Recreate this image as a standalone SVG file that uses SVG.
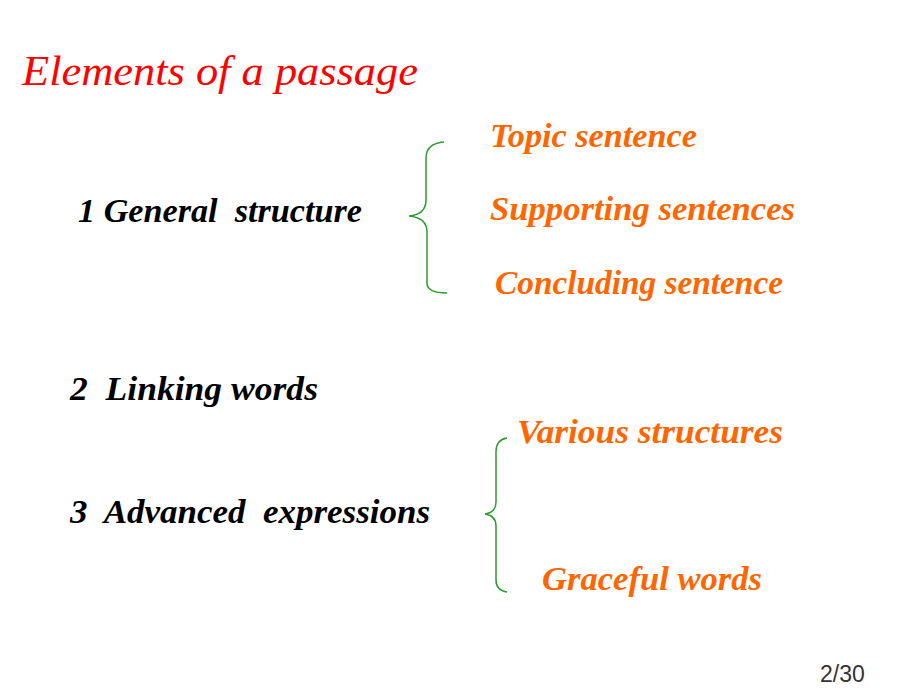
<svg xmlns="http://www.w3.org/2000/svg" width="920" height="690" viewBox="0 0 920 690">
<style>
.t{font-family:"Liberation Serif","DejaVu Serif",serif;font-style:italic;}
.title{fill:#FF0000;font-size:42px;}
.blk{fill:#000000;font-size:33px;font-weight:bold;}
.org{fill:#FF6600;font-size:33px;font-weight:bold;}
.br{fill:none;stroke:#2E9B2E;stroke-width:1.5;}
.pg{font-family:"Liberation Sans",Arial,sans-serif;font-size:23px;fill:#333333;}
</style>
<rect width="920" height="690" fill="#ffffff"/>
<g id="title"><text class="t title" x="22" y="85" textLength="396" lengthAdjust="spacingAndGlyphs">Elements of a passage</text></g>
<g id="n1"><text class="t blk" x="78" y="222" textLength="284" lengthAdjust="spacingAndGlyphs" xml:space="preserve">1 General  structure</text></g>
<g id="n2"><text class="t blk" x="70" y="400" textLength="248" lengthAdjust="spacingAndGlyphs" xml:space="preserve">2  Linking words</text></g>
<g id="n3"><text class="t blk" x="70" y="523" textLength="360" lengthAdjust="spacingAndGlyphs" xml:space="preserve">3  Advanced  expressions</text></g>
<g id="o1"><text class="t org" x="490" y="147" textLength="207" lengthAdjust="spacingAndGlyphs">Topic sentence</text></g>
<g id="o2"><text class="t org" x="490" y="220" textLength="305" lengthAdjust="spacingAndGlyphs">Supporting sentences</text></g>
<g id="o3"><text class="t org" x="495" y="294" textLength="288" lengthAdjust="spacingAndGlyphs">Concluding sentence</text></g>
<g id="o4"><text class="t org" x="517" y="443" textLength="266" lengthAdjust="spacingAndGlyphs">Various structures</text></g>
<g id="o5"><text class="t org" x="542" y="590" textLength="220" lengthAdjust="spacingAndGlyphs">Graceful words</text></g>
<g id="connectors">
<path class="br" d="M444,142 C432,143 426,148 426,158 L426,200 C426,210 420,215 409,216 C420,217 427,222 427,232 L427,283 C427,290 435,293 447,293"/>
<path class="br" d="M507,438 C500,439 496,444 496,452 L496,502 C496,510 492,513 485,514 C492,515 496,518 496,526 L496,580 C496,588 500,591 507,592"/>
</g>
<g id="page"><text class="pg" x="820" y="682">2/30</text></g>
</svg>
